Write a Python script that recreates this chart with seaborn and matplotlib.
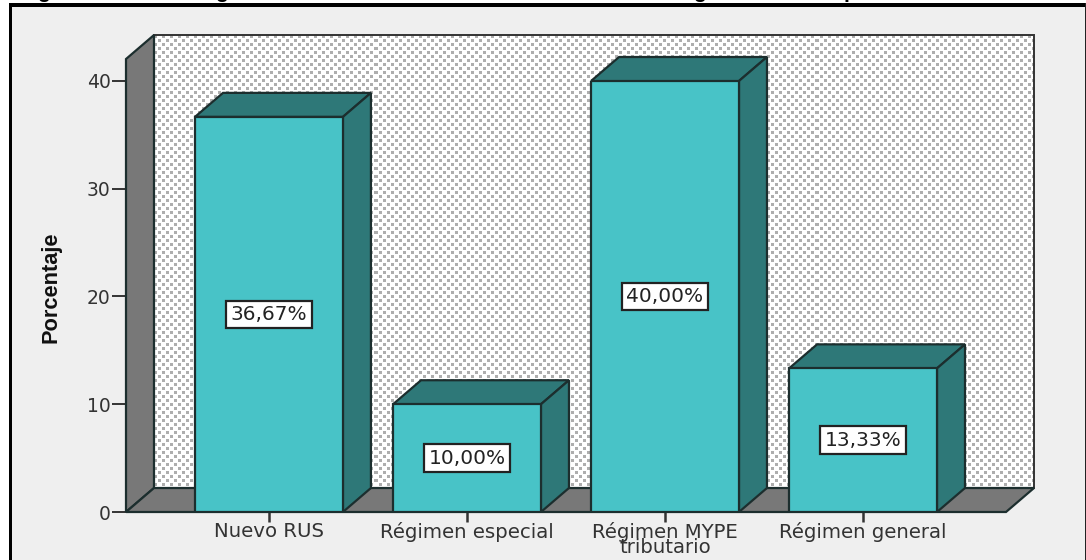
import numpy as np
import pandas as pd
import seaborn as sns
import matplotlib.pyplot as plt
from matplotlib.patches import Polygon, Rectangle

regimen = ['Nuevo RUS', 'Régimen especial', 'Régimen MYPE\ntributario', 'Régimen general']
porcentaje = [36.67, 10.00, 40.00, 13.33]
etiquetas = ['36,67%', '10,00%', '40,00%', '13,33%']
ticks_y = [0, 10, 20, 30, 40]

W, H = 1086, 560
FONDO = '#EFEFEF'
TURQUESA = '#48C3C7'
OSCURO = '#2E7878'
GRIS = '#787878'
BORDE = '#1C2E2E'

sns.set_theme(style='white')
plt.rcParams['font.family'] = ['DejaVu Sans']

fig = plt.figure(figsize=(W / 100, H / 100), dpi=100, facecolor='white')

def panel(x, y, ancho, alto, color):
    # rectangulo en pixeles de la imagen, detras de los ejes
    fig.patches.append(Rectangle((x / W, y / H), ancho / W, alto / H, transform=fig.transFigure,
                                 facecolor=color, edgecolor='none', zorder=-1))

panel(10, 0, W - 11, H - 5, FONDO)
panel(8.5, 0, 3.5, H - 3, 'black')
panel(8.5, H - 6.5, W - 8.5, 3.5, 'black')
panel(W - 1.5, 0, 1.5, H - 3, '#222222')

# solo se ven los trazos inferiores del titulo recortado
for px, letra in zip([44, 222, 699, 850], ['g', 'g', 'g', 'p']):
    fig.text(px / W, (H + 2) / H, letra, fontsize=15, fontweight='bold', ha='center', va='baseline',
             family='Liberation Sans', color='black')

ax = fig.add_axes([126 / W, (H - 512) / H, 880 / W, 431 / H])
ax.patch.set_alpha(0)

df = pd.DataFrame({'regimen': regimen, 'porcentaje': porcentaje})
sns.barplot(data=df, x='regimen', y='porcentaje', color=TURQUESA, saturation=1, width=0.747,
            edgecolor=BORDE, linewidth=1.6, zorder=3, ax=ax)
barras = list(ax.containers[0])

x0, x1 = -0.722, 3.722
ymax = 40
ytop = 42.04
dx, dy = 28 / 198, 24 / 10.775

# pared del fondo punteada
tile = np.ones((8, 8))
tile[0:3, 0:3] = 0.68
tile[4:7, 4:7] = 0.68
textura = np.tile(tile, (60, 115))[:453, :879]
ax.imshow(textura, cmap='gray', vmin=0, vmax=1, interpolation='nearest', aspect='auto',
          extent=(x0 + dx, x1 + dx, dy, ytop + dy), zorder=0.5, clip_on=False)
ax.set_xlim(x0, x1)
ax.set_ylim(0, ymax)

def cara(puntos, color, z=1):
    ax.add_patch(Polygon(puntos, closed=True, facecolor=color, edgecolor=BORDE, linewidth=1.6,
                         zorder=z, clip_on=False))

ax.add_patch(Rectangle((x0 + dx, dy), x1 - x0, ytop, facecolor='none', edgecolor='#333333',
                       linewidth=1.4, zorder=0.6, clip_on=False))
cara([(x0, 0), (x0 + dx, dy), (x0 + dx, ytop + dy), (x0, ytop)], GRIS)
cara([(x0, 0), (x1, 0), (x1 + dx, dy), (x0 + dx, dy)], GRIS)

# caras superior y lateral de cada barra
for barra in barras:
    izq, der = barra.get_x(), barra.get_x() + barra.get_width()
    alto = barra.get_height()
    cara([(izq, alto), (der, alto), (der + dx, alto + dy), (izq + dx, alto + dy)], OSCURO, 2)
    cara([(der, 0), (der + dx, dy), (der + dx, alto + dy), (der, alto)], OSCURO, 2)

ax.bar_label(ax.containers[0], labels=etiquetas, label_type='center', fontsize=14.5, color='#222222',
             zorder=5, bbox=dict(boxstyle='square,pad=0.22', facecolor='white', edgecolor='#222222', linewidth=1.6))

ax.set_yticks(ticks_y)
ax.set_xlabel('')
ax.set_ylabel('Porcentaje', fontsize=15.7, fontweight='bold', color='#111111', labelpad=18,
              family='Liberation Sans', y=0.522)
ax.tick_params(axis='y', length=10, width=1.4, color='#333333', labelsize=13.5, labelcolor='#333333', pad=1, left=True)
ax.tick_params(axis='x', length=7, width=1.8, color='#333333', labelsize=14.2, labelcolor='#333333', pad=0, bottom=True)
for t in ax.get_xticklabels():
    t.set_linespacing(0.78)
sns.despine(ax=ax, left=True, bottom=True)

fig.savefig('out.png', dpi=100)
